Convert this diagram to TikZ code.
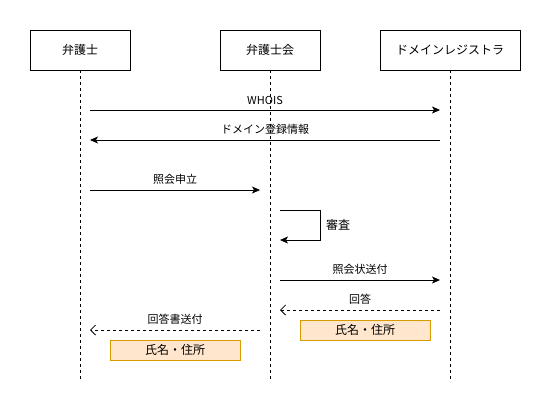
\documentclass[tikz,border=0pt]{standalone}
\usepackage{fontspec}
\setmainfont{Noto Sans CJK JP}
\usetikzlibrary{arrows.meta}
\definecolor{noteline}{HTML}{D79B00}
\definecolor{notefill}{HTML}{FFE6CC}

\begin{document}
\begin{tikzpicture}[x=1bp, y=-1bp, every node/.style={font=\fontsize{11bp}{13bp}\selectfont, inner sep=0pt},
	party/.style={draw, line width=0.8bp, minimum width=100bp, minimum height=40bp, font=\fontsize{12bp}{14bp}\selectfont},
	lifeline/.style={line width=0.8bp, dash pattern=on 3bp off 3bp},
	msg/.style={line width=0.8bp, -{Stealth[length=8bp, width=7bp, inset=2bp]}},
	reply/.style={line width=0.8bp, dash pattern=on 3bp off 3bp, -{Straight Barb[length=5bp, width=10bp]}},
	note/.style={draw=noteline, fill=notefill, line width=0.8bp, minimum width=130bp, minimum height=20bp, font=\fontsize{12bp}{14bp}\selectfont}]
	\useasboundingbox (0,0) rectangle (551,411);
	\node[party] (lawyer) at (80,50) {弁護士};
	\node[party] (bar) at (270,50) {弁護士会};
	\node[party, minimum width=140bp] (registrar) at (450,50) {ドメインレジストラ};
	\coordinate (lawyerend) at (80,380);
	\coordinate (barend) at (270,380);
	\coordinate (registrarend) at (450,380);
	\draw[lifeline] (lawyer.south) -- (lawyerend);
	\draw[lifeline] (bar.south) -- (barend);
	\draw[lifeline] (registrar.south) -- (registrarend);
	% WHOIS
	\coordinate (w1) at (90,110); \coordinate (w2) at (440,110);
	\draw[msg] (w1) -- (w2) node[midway, above=5bp] (whois) {WHOIS};
	\coordinate (d1) at (440,140); \coordinate (d2) at (90,140);
	\draw[msg] (d1) -- (d2) node[midway, above=5bp] (domain) {ドメイン登録情報};
	% 照会
	\coordinate (s1) at (90,190); \coordinate (s2) at (260,190);
	\draw[msg] (s1) -- (s2) node[midway, above=5bp] (apply) {照会申立};
	\coordinate (r1) at (280,210); \coordinate (r2) at (280,240);
	\draw[msg] (r1) -- (320,210) -- (320,240) -- (r2);
	\node[anchor=west, font=\fontsize{12bp}{14bp}\selectfont] (review) at (326,225) {審査};
	\coordinate (q1) at (280,280); \coordinate (q2) at (440,280);
	\draw[msg] (q1) -- (q2) node[midway, above=5bp] (inquiry) {照会状送付};
	\coordinate (a1) at (440,310); \coordinate (a2) at (280,310);
	\draw[reply] (a1) -- (a2) node[midway, above=5bp] (answer) {回答};
	\node[note] (name1) at (365,330) {氏名・住所};
	\coordinate (b1) at (260,330); \coordinate (b2) at (90,330);
	\draw[reply] (b1) -- (b2) node[midway, above=5bp] (send) {回答書送付};
	\node[note] (name2) at (175,350) {氏名・住所};
\end{tikzpicture}
\end{document}
